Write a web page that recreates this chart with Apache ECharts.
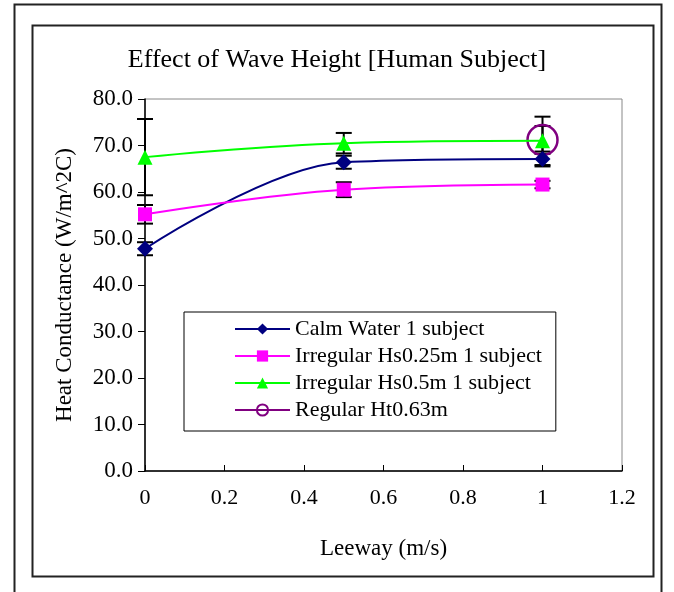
<!DOCTYPE html>
<html>
<head>
<meta charset="utf-8">
<script src="https://cdn.jsdelivr.net/npm/echarts@6/dist/echarts.min.js"></script>
<style>
  html, body { margin: 0; padding: 0; background: #fff; }
  #chart { width: 674px; height: 592px; }
</style>
</head>
<body>
<div id="chart"></div>
<script>
// leeway (m/s)
const leeway = [0, 0.5, 1]

// heat conductance values and error half-widths
const calmWater = [47.8, 66.4, 67.1]
const calmWaterErr = [1.4, 1.4, 1.6]
const hs025 = [55.2, 60.5, 61.6]
const hs025Err = [2.0, 1.6, 0.8]
const hs05 = [67.5, 70.5, 71.0]
const hs05Err = [8.2, 2.2, 5.2]
const regularX = [1]
const regular = [71.2]
const regularErr = [3.0]

const seriesNames = [
  'Calm Water 1 subject',
  'Irregular Hs0.25m 1 subject',
  'Irregular Hs0.5m 1 subject',
  'Regular Ht0.63m'
]

const serif = 'Liberation Serif'

function pairs(xs, ys) {
  return xs.map((x, i) => [x, ys[i]])
}

function errData(xs, ys, es) {
  return xs.map((x, i) => [x, ys[i] - es[i], ys[i] + es[i]])
}

function errorBars(data) {
  return {
    type: 'custom',
    z: 1,
    silent: true,
    data: data,
    renderItem: function (params, api) {
      const top = api.coord([api.value(0), api.value(2)])
      const bot = api.coord([api.value(0), api.value(1)])
      const w = 8
      const style = { stroke: '#000', lineWidth: 2 }
      return {
        type: 'group',
        children: [
          { type: 'line', shape: { x1: top[0], y1: top[1], x2: bot[0], y2: bot[1] }, style: style },
          { type: 'line', shape: { x1: top[0] - w, y1: top[1], x2: top[0] + w, y2: top[1] }, style: style },
          { type: 'line', shape: { x1: bot[0] - w, y1: bot[1], x2: bot[0] + w, y2: bot[1] }, style: style }
        ]
      }
    }
  }
}

const chart = echarts.init(document.getElementById('chart'), null, { renderer: 'canvas' })

chart.setOption({
  animation: false,
  backgroundColor: '#fff',
  textStyle: { fontFamily: serif, color: '#000' },
  title: {
    text: 'Effect of Wave Height [Human Subject]',
    left: 'center',
    top: 42,
    textStyle: { fontFamily: serif, fontSize: 26, fontWeight: 'normal', color: '#000' }
  },
  graphic: [
    { type: 'rect', shape: { x: 14.5, y: 4.5, width: 647, height: 600 }, style: { fill: null, stroke: '#222', lineWidth: 2 } },
    { type: 'rect', shape: { x: 32.5, y: 25.5, width: 621, height: 551 }, style: { fill: null, stroke: '#222', lineWidth: 2 } }
  ],
  grid: {
    left: 145,
    right: 52,
    top: 99,
    bottom: 121,
    show: true,
    borderColor: '#888',
    borderWidth: 1
  },
  legend: {
    data: seriesNames,
    orient: 'vertical',
    left: 184,
    top: 312,
    padding: [6, 14, 10, 50],
    itemGap: 5,
    itemWidth: 55,
    itemHeight: 14,
    borderColor: '#000',
    borderWidth: 1,
    backgroundColor: '#fff',
    textStyle: { fontFamily: serif, fontSize: 22, lineHeight: 22, color: '#000' }
  },
  xAxis: {
    type: 'value',
    min: 0,
    max: 1.2,
    interval: 0.2,
    name: 'Leeway (m/s)',
    nameLocation: 'middle',
    nameGap: 66,
    nameTextStyle: { fontFamily: serif, fontSize: 23, color: '#000' },
    axisLine: { lineStyle: { color: '#000', width: 1.5 } },
    axisTick: { inside: true, length: 6, lineStyle: { color: '#000' } },
    axisLabel: { fontFamily: serif, fontSize: 22, color: '#000', margin: 16 },
    splitLine: { show: false }
  },
  yAxis: {
    type: 'value',
    min: 0,
    max: 80,
    interval: 10,
    name: 'Heat Conductance (W/m^2C)',
    nameLocation: 'middle',
    nameGap: 69,
    nameTextStyle: { fontFamily: serif, fontSize: 23, color: '#000' },
    axisLine: { show: true, lineStyle: { color: '#000', width: 1.5 } },
    axisTick: { show: true, length: 7, lineStyle: { color: '#000' } },
    axisLabel: {
      fontFamily: serif,
      fontSize: 23,
      color: '#000',
      margin: 12,
      formatter: v => v.toFixed(1)
    },
    splitLine: { show: false }
  },
  series: [
    errorBars(errData(leeway, calmWater, calmWaterErr)),
    errorBars(errData(leeway, hs025, hs025Err)),
    errorBars(errData(leeway, hs05, hs05Err)),
    errorBars(errData(regularX, regular, regularErr)),
    {
      name: seriesNames[3],
      type: 'line',
      z: 2,
      data: pairs(regularX, regular),
      symbol: 'circle',
      symbolSize: 30,
      color: '#800080',
      lineStyle: { color: '#800080', width: 2 },
      itemStyle: { color: 'rgba(255,255,255,0)', borderColor: '#800080', borderWidth: 2.5 }
    },
    {
      name: seriesNames[0],
      type: 'line',
      z: 3,
      data: pairs(leeway, calmWater),
      smooth: 0.35,
      symbol: 'diamond',
      symbolSize: 16,
      color: '#000080',
      lineStyle: { color: '#000080', width: 2 },
      itemStyle: { color: '#000080' }
    },
    {
      name: seriesNames[1],
      type: 'line',
      z: 3,
      data: pairs(leeway, hs025),
      smooth: 0.4,
      symbol: 'rect',
      symbolSize: 14,
      color: '#ff00ff',
      lineStyle: { color: '#ff00ff', width: 2 },
      itemStyle: { color: '#ff00ff' }
    },
    {
      name: seriesNames[2],
      type: 'line',
      z: 3,
      data: pairs(leeway, hs05),
      smooth: 0.4,
      symbol: 'triangle',
      symbolSize: 15,
      color: '#00ff00',
      lineStyle: { color: '#00ff00', width: 2 },
      itemStyle: { color: '#00ff00' }
    }
  ]
})

window.addEventListener('resize', () => chart.resize())
</script>
</body>
</html>
